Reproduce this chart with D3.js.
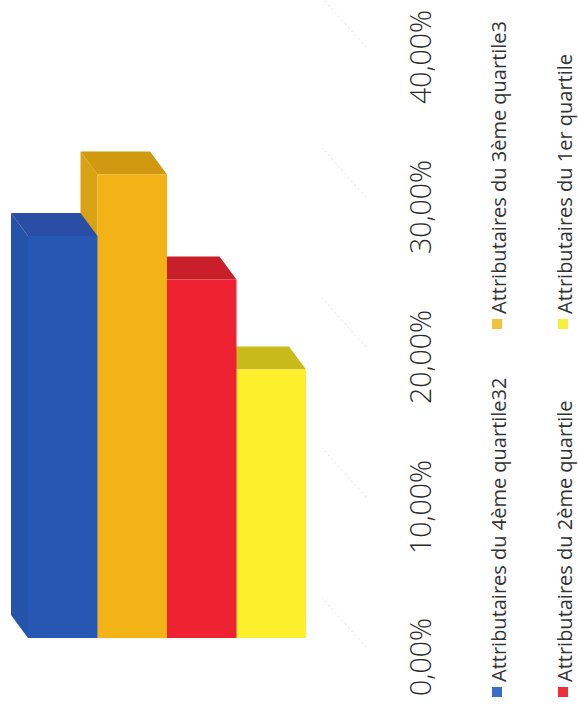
<!DOCTYPE html>
<html>
<head>
<meta charset="utf-8">
<script src="https://cdn.jsdelivr.net/npm/d3@7"></script>
<style>
  html, body { margin: 0; padding: 0; background: #ffffff; }
  svg { display: block; }
</style>
</head>
<body>
<script>
// Series (one category, four quartile groups)
const series = [
  "Attributaires du 4ème quartile32",
  "Attributaires du 3ème quartile3",
  "Attributaires du 2ème quartile",
  "Attributaires du 1er quartile"
];
const values = [0.268, 0.309, 0.239, 0.179];

// Value axis
const tickValues = [0, 0.1, 0.2, 0.3, 0.4];
const tickLabels = ["0,00%", "10,00%", "20,00%", "30,00%", "40,00%"];

// Face colours per series
const frontColors  = ["#2658b3", "#f3b316", "#ef2231", "#fdf02b"];
const endColors    = ["#2a4ea6", "#d0990f", "#c91f2b", "#c9ba1c"];
const sideColors   = ["#2553aa", "#d9a213", "#d41f2c", "#d8cc20"];
const legendColors = ["#3a6dc6", "#f1c23e", "#ec2f3a", "#f8ef3a"];

const W = 578, H = 713;

const svg = d3.select("body").append("svg")
  .attr("width", W).attr("height", H);

// The chart is a horizontal 3D bar chart laid out in a 713 x 578 frame,
// then turned a quarter turn counter-clockwise onto the page.
const g = svg.append("g")
  .attr("transform", `translate(0,${H}) rotate(-90)`);

// Value scale on the front plane of the bars
const x = d3.scaleLinear().domain([0, 0.4]).range([75, 675]);
// Series positions within the single category
const y = d3.scaleBand().domain(series).range([28, 306]).padding(0);
const bw = y.bandwidth();

// Oblique depth of the bars (towards the back wall)
const dx = 23, dy = -17;

// Floor gridlines (depth direction, at each value tick)
const floorFront = 366, floorBack = 322, floorShiftX = -9, floorDepthX = 49;
g.append("g").selectAll("line")
  .data(tickValues)
  .join("line")
  .attr("x1", d => x(d) + floorShiftX)
  .attr("y1", floorFront)
  .attr("x2", d => x(d) + floorShiftX + floorDepthX)
  .attr("y2", floorBack)
  .attr("stroke", "#e4e4e4")
  .attr("stroke-width", 1)
  .attr("stroke-dasharray", "2,3");

// Bars, painted from the lowest series up so each upper bar overlaps the one below
const bars = series.map((s, i) => ({ s, v: values[i], i })).reverse();
const barG = g.append("g");
bars.forEach(d => {
  const x0 = x(0), x1 = x(d.v), v0 = y(d.s), v1 = v0 + bw;
  const bg = barG.append("g");
  // upper face
  bg.append("polygon")
    .attr("points", [[x0, v0], [x1, v0], [x1 + dx, v0 + dy], [x0 + dx, v0 + dy]].map(p => p.join(",")).join(" "))
    .attr("fill", sideColors[d.i]);
  // end face
  bg.append("polygon")
    .attr("points", [[x1, v0], [x1, v1], [x1 + dx, v1 + dy], [x1 + dx, v0 + dy]].map(p => p.join(",")).join(" "))
    .attr("fill", endColors[d.i]);
  // front face
  bg.append("rect")
    .attr("x", x0).attr("y", v0)
    .attr("width", x1 - x0).attr("height", bw)
    .attr("fill", frontColors[d.i]);
});

// Value axis labels
g.append("g").selectAll("text")
  .data(tickValues)
  .join("text")
  .attr("x", d => x(d) - 19)
  .attr("y", 431)
  .attr("text-anchor", "middle")
  .attr("font-family", "'Open Sans', sans-serif")
  .attr("font-weight", 300)
  .attr("font-size", 28.5)
  .attr("fill", "#2a2a2a")
  .text((d, i) => tickLabels[i]);

// Legend: two rows of two entries
const legendPos = [
  { sx: 16,  ty: 506 },
  { sx: 384, ty: 506 },
  { sx: 16,  ty: 572 },
  { sx: 384, ty: 572 }
];
const lg = g.append("g");
series.forEach((s, i) => {
  const p = legendPos[i];
  lg.append("rect")
    .attr("x", p.sx).attr("y", p.ty - 14)
    .attr("width", 10).attr("height", 10)
    .attr("fill", legendColors[i]);
  lg.append("text")
    .attr("x", p.sx + 15).attr("y", p.ty)
    .attr("font-family", "'Open Sans', sans-serif")
    .attr("font-size", 20)
    .attr("fill", "#333")
    .text(s);
});
</script>
</body>
</html>
